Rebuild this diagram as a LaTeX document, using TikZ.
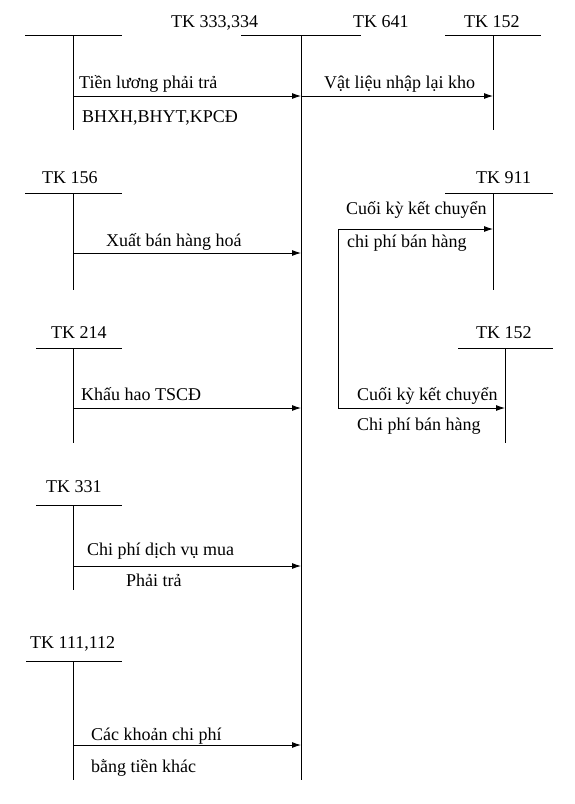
\documentclass[tikz,border=0pt]{standalone}
\usepackage{fontspec}
\setmainfont{Liberation Serif}
\usepackage{xcolor}
\usetikzlibrary{arrows.meta}
\definecolor{ledgerink}{HTML}{000000}

\begin{document}
\begin{tikzpicture}[
  x=1pt,
  y=-1pt,
  every node/.style={font=\fontsize{18}{20}\selectfont, inner sep=0pt, anchor=base west, ledgerink},
  tline/.style={ledgerink, line width=0.9pt},
  flow/.style={tline, -{Latex[length=9pt,width=6pt]}}
]
  \useasboundingbox (0,0) rectangle (574,804);

  % T accounts: top bar ends, stem top, stem bottom
  \def\taccount#1#2#3#4#5#6{%
    \coordinate (#1-l) at (#2,#4);
    \coordinate (#1-r) at (#3,#4);
    \coordinate (#1-t) at (#5,#4);
    \coordinate (#1-b) at (#5,#6);
    \draw[tline] (#1-l) -- (#1-r);
    \draw[tline] (#1-t) -- (#1-b);}

  \taccount{luong}{25}{122}{35}{73}{130}
  \taccount{cp}{241}{361}{35}{301}{780}
  \taccount{vl}{445}{541}{35}{493}{130}
  \taccount{hh}{25}{122}{193}{73}{290}
  \taccount{kq}{445}{553}{193}{493}{290}
  \taccount{kh}{36}{122}{348}{73}{443}
  \taccount{nl}{458}{553}{348}{505}{443}
  \taccount{mua}{36}{122}{505}{73}{590}
  \taccount{tien}{26}{122}{661}{73}{780}

  \node (tkluong) at (171,27) {TK 333,334};
  \node (tkcp) at (353,27) {TK 641};
  \node (tkvl) at (464,27) {TK 152};
  \node (tkhh) at (42,183) {TK 156};
  \node (tkkq) at (476,183) {TK 911};
  \node (tkkh) at (51,338) {TK 214};
  \node (tknl) at (476,338) {TK 152};
  \node (tkmua) at (46,492) {TK 331};
  \node (tktien) at (30,648) {TK 111,112};

  % entries into TK 641
  \coordinate (luong-o) at (73,96);
  \coordinate (cp-i1) at (301,96);
  \coordinate (vl-i) at (493,96);
  \draw[flow] (luong-o) -- (cp-i1);
  \draw[flow] (cp-i1) -- (vl-i);
  \node (luong1) at (79,88) {Tiền lương phải trả};
  \node (luong2) at (82,122) {BHXH,BHYT,KPCĐ};
  \node (vl1) at (324,88) {Vật liệu nhập lại kho};

  \coordinate (hh-o) at (73,253);
  \coordinate (cp-i2) at (301,253);
  \draw[flow] (hh-o) -- (cp-i2);
  \node (hh1) at (106,246) {Xuất bán hàng hoá};

  \coordinate (kh-o) at (73,408);
  \coordinate (cp-i3) at (301,408);
  \draw[flow] (kh-o) -- (cp-i3);
  \node (kh1) at (81,400) {Khấu hao TSCĐ};

  \coordinate (mua-o) at (73,566);
  \coordinate (cp-i4) at (301,566);
  \draw[flow] (mua-o) -- (cp-i4);
  \node (mua1) at (87,555) {Chi phí dịch vụ mua};
  \node (mua2) at (126,586) {Phải trả};

  \coordinate (tien-o) at (73,745);
  \coordinate (cp-i5) at (301,745);
  \draw[flow] (tien-o) -- (cp-i5);
  \node (tien1) at (91,740) {Các khoản chi phí};
  \node (tien2) at (91,772) {bằng tiền khác};

  % closing entries
  \coordinate (kc-t) at (338,229);
  \coordinate (kc-b) at (338,408);
  \coordinate (kq-i) at (493,229);
  \coordinate (nl-i) at (505,408);
  \draw[tline] (kc-t) -- (kc-b);
  \draw[flow] (kc-t) -- (kq-i);
  \draw[flow] (kc-b) -- (nl-i);
  \node (kq1) at (346,214) {Cuối kỳ kết chuyển};
  \node (kq2) at (347,247) {chi phí bán hàng};
  \node (nl1) at (357,400) {Cuối kỳ kết chuyển};
  \node (nl2) at (357,430) {Chi phí bán hàng};
\end{tikzpicture}
\end{document}
